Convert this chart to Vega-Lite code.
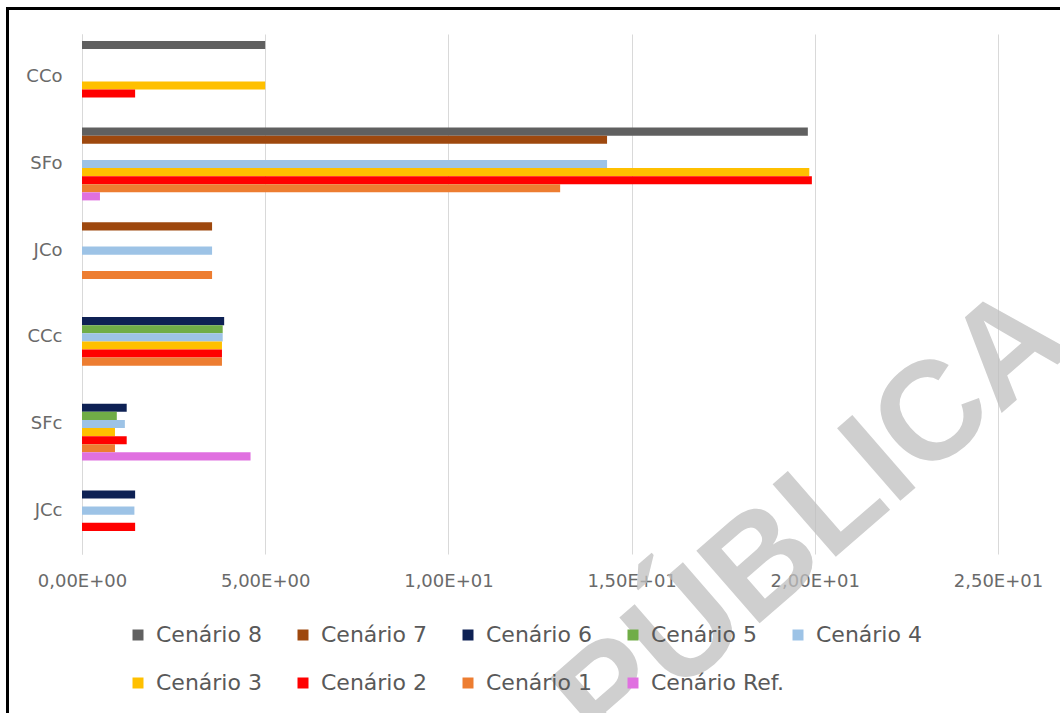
{
  "$schema": "https://vega.github.io/schema/vega-lite/v6.json",
  "autosize": "none",
  "width": 916,
  "height": 520,
  "padding": {"left": 82, "top": 34, "right": 62, "bottom": 159},
  "background": "white",
  "config": {"view": {"stroke": null}},
  "datasets": {
    "bars": [
      {"cat": "CCo", "serie": "Cenário 8", "valor": 5.0},
      {"cat": "CCo", "serie": "Cenário 3", "valor": 5.0},
      {"cat": "CCo", "serie": "Cenário 2", "valor": 1.45},
      {"cat": "SFo", "serie": "Cenário 8", "valor": 19.81},
      {"cat": "SFo", "serie": "Cenário 7", "valor": 14.33},
      {"cat": "SFo", "serie": "Cenário 4", "valor": 14.33},
      {"cat": "SFo", "serie": "Cenário 3", "valor": 19.85},
      {"cat": "SFo", "serie": "Cenário 2", "valor": 19.92},
      {"cat": "SFo", "serie": "Cenário 1", "valor": 13.05},
      {"cat": "SFo", "serie": "Cenário Ref.", "valor": 0.49},
      {"cat": "JCo", "serie": "Cenário 7", "valor": 3.55},
      {"cat": "JCo", "serie": "Cenário 4", "valor": 3.55},
      {"cat": "JCo", "serie": "Cenário 1", "valor": 3.55},
      {"cat": "CCc", "serie": "Cenário 6", "valor": 3.88},
      {"cat": "CCc", "serie": "Cenário 5", "valor": 3.84},
      {"cat": "CCc", "serie": "Cenário 4", "valor": 3.84},
      {"cat": "CCc", "serie": "Cenário 3", "valor": 3.82},
      {"cat": "CCc", "serie": "Cenário 2", "valor": 3.82},
      {"cat": "CCc", "serie": "Cenário 1", "valor": 3.82},
      {"cat": "SFc", "serie": "Cenário 6", "valor": 1.22},
      {"cat": "SFc", "serie": "Cenário 5", "valor": 0.95},
      {"cat": "SFc", "serie": "Cenário 4", "valor": 1.17},
      {"cat": "SFc", "serie": "Cenário 3", "valor": 0.9},
      {"cat": "SFc", "serie": "Cenário 2", "valor": 1.22},
      {"cat": "SFc", "serie": "Cenário 1", "valor": 0.9},
      {"cat": "SFc", "serie": "Cenário Ref.", "valor": 4.6},
      {"cat": "JCc", "serie": "Cenário 6", "valor": 1.45},
      {"cat": "JCc", "serie": "Cenário 4", "valor": 1.43},
      {"cat": "JCc", "serie": "Cenário 2", "valor": 1.45}
    ],
    "marca": [{"texto": "PÚBLICA", "x": 19.7, "cat": "JCc"}],
    "borda": [{"a": 0, "b": 0}]
  },
  "layer": [
    {
      "layer": [
        {
          "data": {"name": "bars"},
          "mark": {"type": "bar"},
          "encoding": {
            "y": {
              "field": "cat", "type": "nominal",
              "scale": {"domain": ["CCo", "SFo", "JCo", "CCc", "SFc", "JCc"], "paddingInner": 0.16, "paddingOuter": 0.08},
              "axis": {"title": null, "ticks": false, "tickSize": 0, "domain": true, "domainColor": "#D9D9D9", "domainWidth": 1, "labelPadding": 20, "labelFont": "DejaVu Sans", "labelFontSize": 18, "labelColor": "#6A6A6A", "grid": false}
            },
            "yOffset": {
              "field": "serie", "type": "nominal",
              "scale": {"domain": ["Cenário 8", "Cenário 7", "Cenário 6", "Cenário 5", "Cenário 4", "Cenário 3", "Cenário 2", "Cenário 1", "Cenário Ref."], "paddingInner": 0, "paddingOuter": 0}
            },
            "x": {
              "field": "valor", "type": "quantitative",
              "scale": {"domain": [0, 25], "nice": false},
              "axis": {"title": null, "values": [0, 5, 10, 15, 20, 25], "domain": false, "ticks": false, "tickSize": 0, "grid": true, "gridColor": "#D9D9D9", "gridWidth": 1, "labelFlush": false, "labelOverlap": false, "labelPadding": 18, "labelFont": "DejaVu Sans", "labelFontSize": 18, "labelColor": "#6A6A6A",
                "labelExpr": "slice(replace(upper(format(datum.value, '.2e')), '.', ','), 0, -1) + '0' + slice(format(datum.value, '.2e'), -1)"}
            },
            "color": {
              "field": "serie", "type": "nominal",
              "scale": {
                "domain": ["Cenário 8", "Cenário 7", "Cenário 6", "Cenário 5", "Cenário 4", "Cenário 3", "Cenário 2", "Cenário 1", "Cenário Ref."],
                "range": ["#606060", "#9E480E", "#0E2154", "#70AD47", "#9DC3E6", "#FFC000", "#FF0000", "#ED7D31", "#E070E0"]
              },
              "legend": {"title": null, "orient": "none", "legendX": 45, "legendY": 590, "direction": "horizontal", "columns": 5, "gridAlign": "all", "symbolType": "square", "symbolSize": 121, "symbolStrokeWidth": 0, "labelFont": "DejaVu Sans", "labelFontSize": 22, "labelColor": "#595959", "labelOffset": 7, "columnPadding": 3, "rowPadding": 26, "labelLimit": 300}
            }
          }
        },
        {
          "data": {"name": "marca"},
          "mark": {"type": "text", "font": "Liberation Sans", "fontWeight": "bold", "fontSize": 140, "angle": -41, "align": "center", "baseline": "middle", "dy": 14, "fill": "#BFBFBF", "opacity": 0.75},
          "encoding": {
            "x": {"field": "x", "type": "quantitative"},
            "y": {"field": "cat", "type": "nominal"},
            "text": {"field": "texto"}
          }
        }
      ]
    },
    {
      "data": {"name": "borda"},
      "mark": {"type": "point", "opacity": 0},
      "encoding": {
        "x": {"field": "a", "type": "quantitative",
          "scale": {"domain": [0, 1], "range": [-75, 978]},
          "axis": {"orient": "top", "offset": 26, "title": null, "labels": false, "ticks": false, "grid": false, "domainColor": "#000000", "domainWidth": 3, "domainCap": "square"}},
        "y": {"field": "b", "type": "quantitative",
          "scale": {"domain": [0, 1], "range": [679, -26]},
          "axis": {"orient": "left", "offset": 75, "title": null, "labels": false, "ticks": false, "grid": false, "domainColor": "#000000", "domainWidth": 3, "domainCap": "square"}}
      }
    }
  ],
  "resolve": {"scale": {"x": "independent", "y": "independent"}}
}
